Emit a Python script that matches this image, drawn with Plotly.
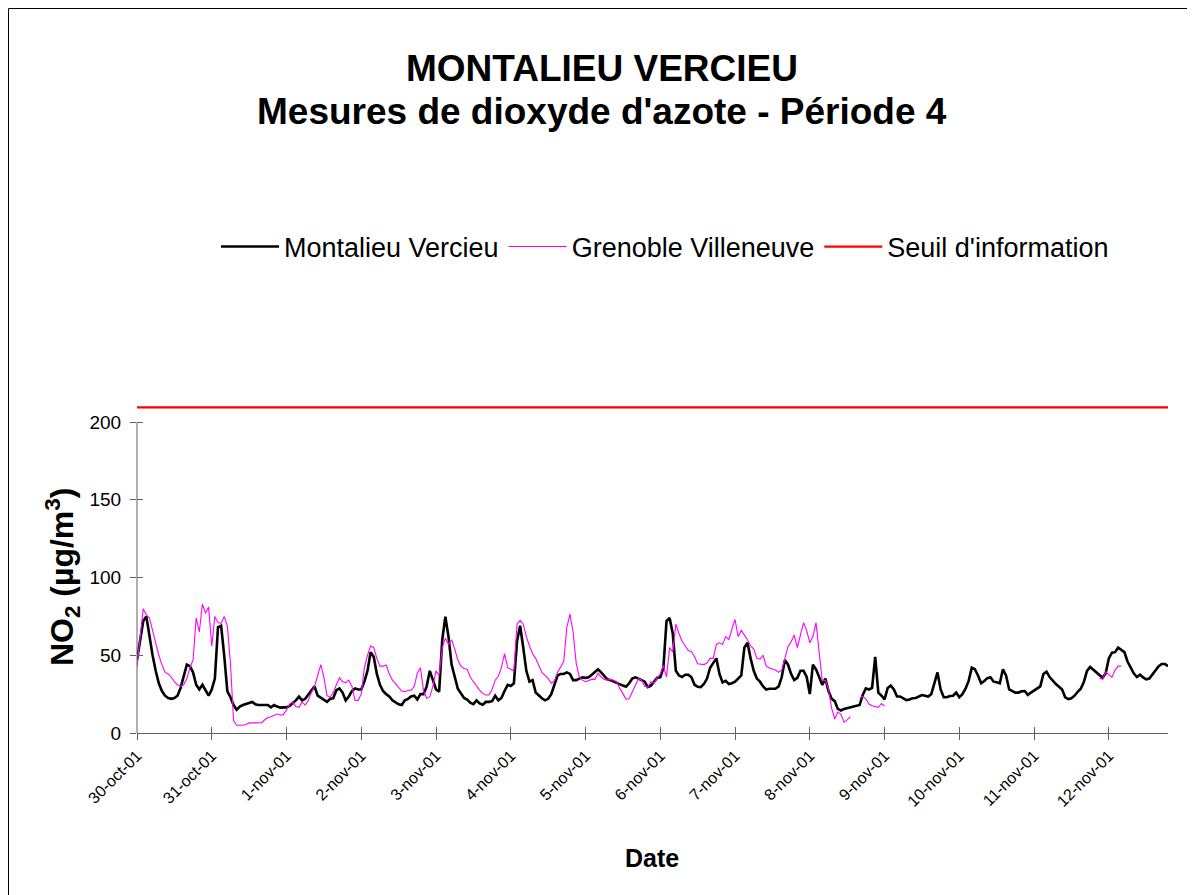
import pandas as pd
import plotly.graph_objects as go

# ---------------- data (hourly, starting 30-oct-01 00:00) ----------------
start = "2001-10-30 00:00"

# Montalieu Vercieu, one list per day
m_d00 = [47, 60, 72, 75, 62, 50, 40, 32, 27, 24, 22.5, 22, 22.5, 24, 29, 36, 44, 43, 39, 31, 28, 31, 27, 24]
m_d01 = [28, 35, 68, 69, 50, 27, 23, 18, 15, 17, 18, 18.5, 19, 20, 18.5, 18, 18, 18, 18, 16.5, 18, 17, 16.3, 16.5]
m_d02 = [16.5, 17.5, 19, 21, 23.4, 21, 22, 24.5, 27, 30, 24, 22.5, 21, 20, 22, 22.3, 27.5, 28.7, 26, 21, 23.5, 27, 28.7, 28]
m_d03 = [28, 33, 40, 52, 49, 38, 31, 27, 25, 23.5, 21, 19.5, 18.5, 18, 21, 22, 23.5, 24, 21.6, 25, 25, 30, 40, 34]
m_d04 = [28, 26.6, 60, 74.8, 62, 44, 36, 28.5, 25.5, 22.5, 21.5, 19.5, 18.5, 21, 19, 18.2, 20, 20, 20.5, 24, 21, 22.5, 27, 31]
m_d05 = [30.2, 32, 59, 69, 55, 40, 33, 34, 26, 24, 22.3, 21, 22, 25, 31, 37, 38, 38, 39, 38, 34, 34, 35, 35.8]
m_d06 = [35.5, 35.8, 37.5, 39.4, 41, 39, 37, 34.5, 34, 33, 32, 31.5, 30.5, 29.8, 32, 35, 35.8, 35, 34, 33, 29.5, 30.5, 33, 35.5]
m_d07 = [35.8, 42, 72, 74, 64, 40, 37, 36, 37.5, 37.5, 35.8, 31, 29.8, 29.5, 31.5, 35, 42, 45, 48, 38, 32.5, 33.5, 31.5, 32]
m_d08 = [33, 35, 37, 55, 58, 48, 40, 35, 33, 30, 28, 28.5, 28.7, 28.5, 30, 36, 47, 44, 38, 34, 35.5, 40, 40, 36]
m_d09 = [25, 44, 41, 36, 31, 35, 27, 22, 20.5, 15.5, 14.5, 15.5, 16, 16.5, 17.3, 17.6, 18, 24.5, 28.7, 28, 29, 49, 26, 24]
m_d10 = [21.6, 29, 30.5, 28, 23.5, 23.5, 22.5, 21.2, 21.5, 22.3, 22.5, 23.5, 24.4, 24, 23.5, 25, 33, 39, 28, 23, 23, 23.8, 24, 26]
m_d11 = [23, 25, 28.5, 33.5, 42, 41, 37, 32, 33.5, 35.3, 35.8, 33, 32.6, 32, 41, 37, 28, 27, 26, 26, 26.8, 27, 24.5, 26]
m_d12 = [27.5, 28.5, 30, 38, 39.5, 36, 33.5, 31.5, 29.8, 28, 23, 21.8, 22.3, 24, 26.5, 28.5, 33, 40, 42.5, 40.8, 39, 37, 35.5, 38.4]
m_d13 = [48, 51.7, 52, 55, 53.5, 52, 46, 42, 38.4, 36, 37.5, 35.8, 34.5, 35, 37.5, 40.5, 43, 44.4, 44.4, 43]

# Grenoble Villeneuve, one list per day (None = missing)
g_d00 = [43, 62, 80, 76, 74, 66, 58, 50, 44, 39, 38, 36, 33, 31, 30, 31, 35, 42, 47, 74, 65, 83, 77, 81]
g_d01 = [56, 75, 71, 70.5, 75, 69, 45, 8, 5, 5, 5, 5.5, 6.5, 6.5, 6.5, 6.5, 6.6, 8.5, 10, 10.5, 11.5, 12.2, 11.6, 11.8]
g_d02 = [15, 18.5, 20, 17, 16.5, 20, 18, 21, 26, 30, 37, 44, 36, 24, 23, 26, 31, 35.5, 33, 32.4, 34, 30, 21, 21]
g_d03 = [25, 42, 50, 56, 55, 48, 43, 43, 43.7, 38, 34, 31.5, 29, 27, 26.6, 27.5, 27.6, 30, 38.4, 42, 27, 22.3, 23.4, 30]
g_d04 = [40, 37, 55, 61, 57, 60, 54, 47, 43, 41.5, 41, 36, 33, 30, 27.6, 25.5, 24.4, 24.4, 28, 34, 36.5, 42, 51, 42]
g_d05 = [41, 40, 70, 72.5, 70, 62, 56, 51, 48, 43, 39, 37, 35, 32, 33.5, 39, 43, 46, 68, 76.5, 65, 45, 36, 34]
g_d06 = [33, 34, 34.5, 34.5, 38.4, 36, 34.5, 34, 34.5, 34, 33, 28.7, 25, 21.8, 22, 26.5, 31.5, 35, 34, 30, 29.5, 33, 32, 35.5]
g_d07 = [38, 43.5, 36, 55, 52, 70, 64, 59, 56, 53, 52.3, 49, 44.5, 44.4, 44, 45, 48, 48, 57, 58, 57, 62, 60, 67]
g_d08 = [73, 62, 66, 63, 60, 56, 54, 48, 47.5, 50, 43, 41.8, 41.2, 40.5, 39, 40.5, 48, 55.5, 58.7, 63, 55, 63, 71, 66]
g_d09 = [58, 62, 71, 52, 33.5, 34, 28, 16, 9, 13.5, 12, 7, 8.4, 10.5, None, None, 22.3, 23.5, 22, 18.6, 17.5, 17, 16.5, 19]
g_d10 = [17.4] + [None] * 23
g_d11 = [None] * 24
g_d12 = [None] * 21 + [35.2, 34.5, 39.5]
g_d13 = [37.5, 35.8, 40.5, 43, 43]

seuil_value = 209.5  # Seuil d'information (as drawn)

tick_dates = pd.date_range("2001-10-30", "2001-11-12", freq="D")
tick_labels = ["30-oct-01", "31-oct-01", "1-nov-01", "2-nov-01", "3-nov-01", "4-nov-01",
               "5-nov-01", "6-nov-01", "7-nov-01", "8-nov-01", "9-nov-01", "10-nov-01",
               "11-nov-01", "12-nov-01"]
y_ticks = [0, 50, 100, 150, 200]

montalieu = (m_d00 + m_d01 + m_d02 + m_d03 + m_d04 + m_d05 + m_d06 + m_d07 +
             m_d08 + m_d09 + m_d10 + m_d11 + m_d12 + m_d13)
grenoble = (g_d00 + g_d01 + g_d02 + g_d03 + g_d04 + g_d05 + g_d06 + g_d07 +
            g_d08 + g_d09 + g_d10 + g_d11 + g_d12 + g_d13)

t_m = pd.date_range(start, periods=len(montalieu), freq="h")
t_g = pd.date_range(start, periods=len(grenoble), freq="h")
seuil = [seuil_value] * len(t_m)

# ---------------- layout geometry (screen px, page has an 8px body margin) ----------------
S = 8
FW, FH = 1195 - S, 895 - S
L, R, T, B = 137 - S, 1168 - S, 405 - S, 733 - S
W, H = R - L, B - T


def px(x):  # screen x -> paper
    return (x - S - L) / W


def py(y):  # screen y -> paper
    return (B - (y - S)) / H


FONT = "Arial, Liberation Sans, sans-serif"
AX = "#606060"

fig = go.Figure()
fig.add_trace(go.Scatter(x=t_m, y=montalieu, mode="lines", name="Montalieu Vercieu",
                         line=dict(color="black", width=2.6)))
fig.add_trace(go.Scatter(x=t_g, y=grenoble, mode="lines", name="Grenoble Villeneuve",
                         line=dict(color="#FF00FF", width=1.1), connectgaps=False))
fig.add_trace(go.Scatter(x=t_m, y=seuil, mode="lines", name="Seuil d'information",
                         line=dict(color="#FF0000", width=2.2)))
# helper trace for the overlay axes (cross tick marks)
fig.add_trace(go.Scatter(x=[t_m[0]], y=[0], mode="lines", xaxis="x2", yaxis="y2",
                         showlegend=False, hoverinfo="skip", line=dict(width=0)))

xr = [t_m[0], t_m[-1]]
yr = [0, 211]

fig.update_layout(
    width=FW, height=FH,
    margin=dict(l=L, r=FW - R, t=T, b=FH - B),
    paper_bgcolor="white", plot_bgcolor="white",
    font=dict(family=FONT, color="black"),
    showlegend=True,
    legend=dict(orientation="h", x=px(216), xanchor="left", y=py(247), yanchor="middle",
                font=dict(size=27, family=FONT, color="black"), bgcolor="rgba(0,0,0,0)",
                itemwidth=58, traceorder="normal"),
    xaxis=dict(type="date", range=xr, tickmode="array", tickvals=tick_dates, ticktext=tick_labels,
               tickangle=-45, ticks="outside", ticklen=6, tickcolor=AX, tickwidth=1,
               showline=True, linecolor=AX, linewidth=1, showgrid=False, zeroline=False,
               tickfont=dict(size=16, family=FONT, color="black")),
    xaxis2=dict(type="date", range=xr, overlaying="x", anchor="y", side="bottom",
                tickmode="array", tickvals=tick_dates, ticks="inside", ticklen=6,
                tickcolor=AX, tickwidth=1, showticklabels=False, showline=False,
                showgrid=False, zeroline=False),
    yaxis=dict(range=yr, tickmode="array", tickvals=y_ticks, ticks="outside", ticklen=6,
               tickcolor=AX, tickwidth=1, showline=False, showgrid=False, zeroline=False,
               ticklabelstandoff=5,
               tickfont=dict(size=19, family=FONT, color="black")),
    yaxis2=dict(range=yr, overlaying="y", anchor="x", side="left", tickmode="array",
                tickvals=y_ticks, ticks="inside", ticklen=6, tickcolor=AX, tickwidth=1,
                showticklabels=False, showline=False, showgrid=False, zeroline=False),
)

# y axis line only from 0 to 200 (as in the original)
fig.add_shape(type="line", xref="paper", yref="y", x0=0, x1=0, y0=y_ticks[0], y1=y_ticks[-1],
              line=dict(color=AX, width=1))
# outer chart border (figure edge)
fig.add_shape(type="rect", xref="paper", yref="paper", x0=px(8.5), x1=px(1230), y0=py(930), y1=py(8.5),
              line=dict(color="black", width=1), fillcolor="rgba(0,0,0,0)", layer="below")

ann = [
    dict(text="MONTALIEU VERCIEU", x=px(602), y=py(68), size=37),
    dict(text="Mesures de dioxyde d'azote - Période 4", x=px(602), y=py(111), size=37),
    dict(text="Date", x=px(652), y=py(858), size=25),
]
for a in ann:
    fig.add_annotation(text=a["text"], x=a["x"], y=a["y"], xref="paper", yref="paper",
                       xanchor="center", yanchor="middle", showarrow=False,
                       font=dict(size=a["size"], family=FONT, color="black", weight="bold"))
fig.add_annotation(text="NO<sub>2</sub> (µg/m<sup>3</sup>)", x=px(62), y=py(577),
                   xref="paper", yref="paper", xanchor="center", yanchor="middle",
                   showarrow=False, textangle=-90,
                   font=dict(size=32, family=FONT, color="black", weight="bold"))

fig.write_html("out.html")
